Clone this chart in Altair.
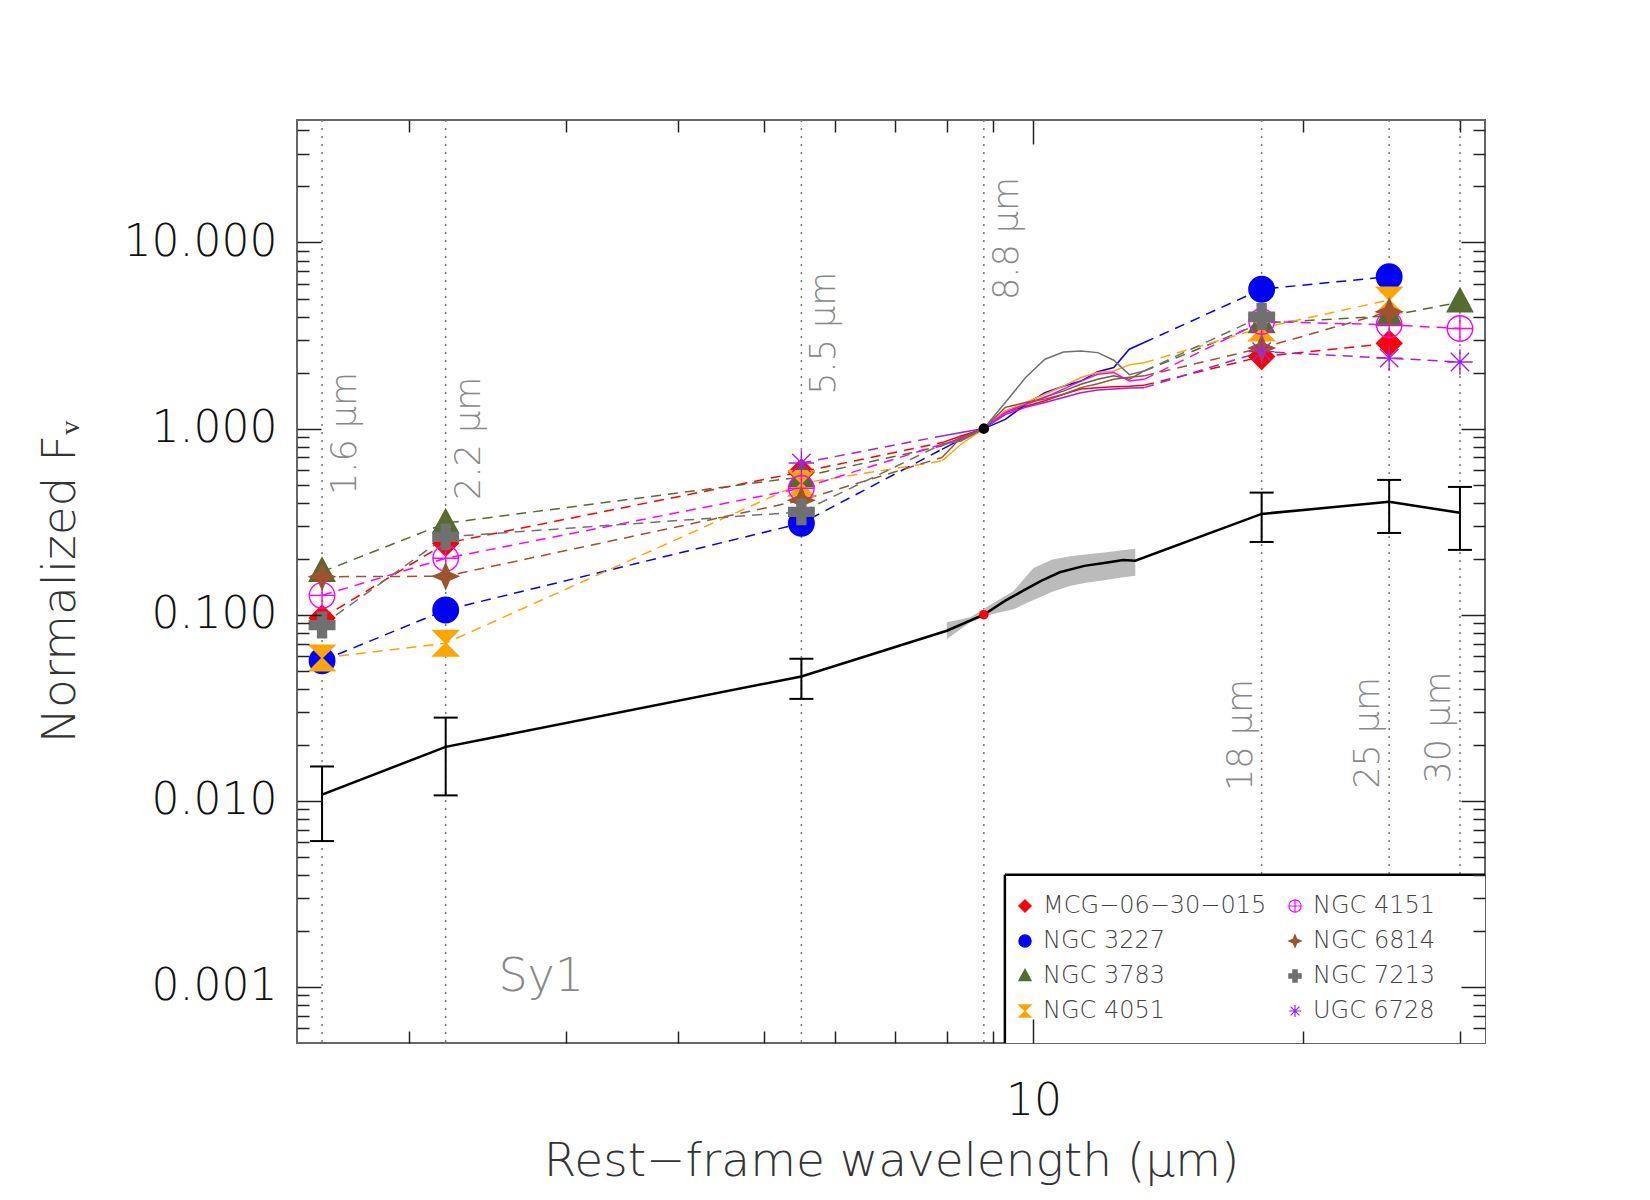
import altair as alt
import pandas as pd

# ---------------------------------------------------------------- data
GALAXIES = ["MCG−06−30−015", "NGC 3227", "NGC 3783", "NGC 4051",
            "NGC 4151", "NGC 6814", "NGC 7213", "UGC 6728"]
COLORS = ["#ff0000", "#0000ff", "#556b2f", "#ffa500",
          "#ff00ff", "#a0522d", "#707070", "#a020f0"]

NIR_WL = [1.6, 2.2, 5.5]          # H, K, 5.5 micron photometry
MIR_WL = [18.0, 25.0, 30.0]       # 18, 25, 30 micron photometry
SPEC_WL = [7.9, 8.3, 8.8, 9.3, 9.8, 10.3, 10.8, 11.3, 11.8, 12.3, 12.8, 13.3]

MCG_NIR = [0.096, 0.242, 0.585]
MCG_SPEC = [0.841, 0.913, 1.0, 1.22, 1.32, 1.41, 1.53, 1.63, 1.66, 1.68, 1.69, 1.71]
MCG_MIR = [2.44, 2.87, None]

N3227_NIR = [0.0566, 0.106, 0.31]
N3227_SPEC = [0.774, 0.876, 1.0, 1.12, 1.35, 1.56, 1.69, 1.80, 2.02, 2.13, 2.67, 2.90]
N3227_MIR = [5.61, 6.55, None]

N3783_NIR = [0.170, 0.31, 0.55]
N3783_SPEC = [0.807, 0.895, 1.0, 1.24, 1.35, 1.48, 1.59, 1.73, 1.84, 1.92, 1.84, 2.04]
N3783_MIR = [3.69, 4.03, 4.78]

N4051_NIR = [0.0585, 0.0703, 0.508]
N4051_SPEC = [0.67, 0.824, 1.0, 1.24, 1.38, 1.53, 1.69, 1.88, 2.0, 2.04, 2.2, 2.26]
N4051_MIR = [3.47, 4.91, None]

N4151_NIR = [0.127, 0.201, 0.478]
N4151_SPEC = [0.824, 0.876, 1.0, 1.22, 1.35, 1.47, 1.63, 1.80, 1.96, 2.0, 1.80, 1.84]
N4151_MIR = [3.76, 3.61, 3.45]

N6814_NIR = [0.16, 0.161, 0.412]
N6814_SPEC = [0.699, 0.895, 1.0, 1.30, 1.38, 1.44, 1.53, 1.66, 1.74, 1.84, 1.89, 1.92]
N6814_MIR = [2.71, 4.25, None]

N7213_NIR = [0.088, 0.262, 0.357]
N7213_SPEC = [0.824, 0.858, 1.0, 1.38, 1.88, 2.36, 2.58, 2.61, 2.56, 2.33, 1.95, 2.04]
N7213_MIR = [4.0, None, None]

U6728_NIR = [None, None, 0.653]
U6728_SPEC = [0.913, 0.952, 1.0, 1.19, 1.30, 1.38, 1.47, 1.56, 1.61, 1.63, 1.65, 1.66]
U6728_MIR = [2.59, 2.39, 2.28]

# mean Sy1 template (shifted down by a factor of 10)
MEAN_WL = [1.6, 2.2, 5.5, 18.0, 25.0, 30.0]
MEAN_VAL = [0.0108, 0.0195, 0.0466, 0.348, 0.404, 0.353]
MEAN_LO = [0.00608, 0.0107, 0.0353, 0.246, 0.275, 0.223]
MEAN_HI = [0.0153, 0.0280, 0.058, 0.453, 0.530, 0.486]
MEAN_SPEC_WL = [8.0, 8.8, 9.3, 9.75, 10.2, 10.7, 11.4, 12.1, 12.6, 13.0]
MEAN_SPEC = [0.082, 0.1, 0.119, 0.135, 0.152, 0.169, 0.183, 0.191, 0.197, 0.195]
BAND_WL = [8.0, 8.5, 9.0, 9.5, 10.0, 10.5, 11.0, 11.5, 12.0, 12.5, 13.0]
BAND_HI = [0.091, 0.097, 0.115, 0.134, 0.178, 0.198, 0.206, 0.211, 0.216, 0.221, 0.226]
BAND_LO = [0.074, 0.091, 0.101, 0.107, 0.120, 0.133, 0.143, 0.149, 0.153, 0.158, 0.162]

# filter wavelengths marked by dotted lines
BAND_LINES = [1.6, 2.2, 5.5, 8.8, 18.0, 25.0, 30.0]
BAND_TEXT = ["1.6 μm", "2.2 μm", "5.5 μm", "8.8 μm", "18 μm", "25 μm", "30 μm"]
BAND_TEXT_Y = [0.44, 0.414, 1.52, 4.91, 0.0113, 0.0116, 0.0124]

X_DOMAIN = [1.5, 32.0]
Y_DOMAIN = [0.0005, 45.5]
X_MINOR = [2, 3, 4, 5, 6, 7, 8, 9, 20, 30]
X_MAJOR = [10]
Y_MAJOR = [0.001, 0.01, 0.1, 1, 10]
Y_MINOR = [m * 10.0 ** e for e in range(-4, 2) for m in range(2, 10)
           if Y_DOMAIN[0] < m * 10.0 ** e < Y_DOMAIN[1]]

# legend panel corner (data units)
LEG_X0, LEG_Y1 = 9.29, 0.00401

# ------------------------------------------------------------- symbols
SHAPES = [
    "diamond",
    "circle",
    "M0,-1.1L1,0.75L-1,0.75Z",
    "M-1,-1L1,-1L0,0ZM-1,1L1,1L0,0Z",
    "M1,0A1,1,0,1,1,-1,0A1,1,0,1,1,1,0ZM-1,0L1,0M0,-1L0,1",
    "M0,-1L0.3,-0.3L1,0L0.3,0.3L0,1L-0.3,0.3L-1,0L-0.3,-0.3Z",
    "M-0.35,-1L0.35,-1L0.35,-0.35L1,-0.35L1,0.35L0.35,0.35L0.35,1L-0.35,1"
    "L-0.35,0.35L-1,0.35L-1,-0.35L-0.35,-0.35Z",
    "M-1,0L1,0M0,-1L0,1M-0.72,-0.72L0.72,0.72M-0.72,0.72L0.72,-0.72",
]
FILLS = [c if i not in (4, 7) else "transparent" for i, c in enumerate(COLORS)]

series = [
    (GALAXIES[0], MCG_NIR, MCG_SPEC, MCG_MIR),
    (GALAXIES[1], N3227_NIR, N3227_SPEC, N3227_MIR),
    (GALAXIES[2], N3783_NIR, N3783_SPEC, N3783_MIR),
    (GALAXIES[3], N4051_NIR, N4051_SPEC, N4051_MIR),
    (GALAXIES[4], N4151_NIR, N4151_SPEC, N4151_MIR),
    (GALAXIES[5], N6814_NIR, N6814_SPEC, N6814_MIR),
    (GALAXIES[6], N7213_NIR, N7213_SPEC, N7213_MIR),
    (GALAXIES[7], U6728_NIR, U6728_SPEC, U6728_MIR),
]

pt_rows, dash_rows, spec_rows = [], [], []
for rank, (name, nir, spec, mir) in enumerate(series):
    col = COLORS[rank]
    for wl, v in zip(NIR_WL + MIR_WL, nir + mir):
        if v is not None:
            pt_rows.append(dict(name=name, wl=wl, val=v, rank=rank))
    short = [(w, v) for w, v in zip(NIR_WL, nir) if v is not None] + [(SPEC_WL[0], spec[0])]
    long_ = [(SPEC_WL[-1], spec[-1])] + [(w, v) for w, v in zip(MIR_WL, mir) if v is not None]
    for seg, pts in (("a", short), ("b", long_)):
        for w, v in pts:
            dash_rows.append(dict(name=name, col=col, key=name + seg, wl=w, val=v))
    for w, v in zip(SPEC_WL, spec):
        spec_rows.append(dict(name=name, col=col, wl=w, val=v))

pts_df = pd.DataFrame(pt_rows)
dash_df = pd.DataFrame(dash_rows)
spec_df = pd.DataFrame(spec_rows)

mean_line_df = pd.DataFrame(
    {"wl": MEAN_WL + MEAN_SPEC_WL, "val": MEAN_VAL + MEAN_SPEC}
).sort_values("wl")
mean_err_df = pd.DataFrame({"wl": MEAN_WL, "val": MEAN_VAL, "lo": MEAN_LO, "hi": MEAN_HI})
band_df = pd.DataFrame({"wl": BAND_WL, "lo": BAND_LO, "hi": BAND_HI})
lines_df = pd.DataFrame({"wl": BAND_LINES, "text": BAND_TEXT, "y": BAND_TEXT_Y})
norm_sed_df = pd.DataFrame({"wl": [8.8], "val": [1.0]})
norm_mean_df = pd.DataFrame({"wl": [8.8], "val": [0.1]})
box_df = pd.DataFrame({"x0": [LEG_X0], "x1": [X_DOMAIN[1]],
                       "y0": [Y_DOMAIN[0]], "y1": [LEG_Y1]})
sy_df = pd.DataFrame({"wl": [2.52], "val": [0.00095], "text": ["Sy1"]})

# --------------------------------------------------------------- chart
W, H = 1188, 923
FONT = "DejaVu Sans"
LIGHT = 200

xs = alt.Scale(type="log", domain=X_DOMAIN, nice=False)
ys = alt.Scale(type="log", domain=Y_DOMAIN, nice=False)


def X(field, axis=None):
    return alt.X(field, type="quantitative", scale=xs, axis=axis)


def Y(field, axis=None):
    return alt.Y(field, type="quantitative", scale=ys, axis=axis)


def tick_axis(orient, values, length, **kw):
    return alt.Axis(orient=orient, values=values, tickSize=length, offset=-length,
                    domain=False, grid=False, tickColor="#222", tickWidth=1.5,
                    zindex=1, labelFlush=False, labelOverlap=False, **kw)


no_labels = dict(labels=False, title="")
x_major = tick_axis("bottom", X_MAJOR, 24, format=".0f", labelFont=FONT,
                    labelFontSize=44, labelFontWeight=LIGHT, labelColor="#111",
                    labelPadding=36, title="Rest−frame wavelength (μm)",
                    titleFont=FONT, titleFontSize=47, titleFontWeight=LIGHT,
                    titleColor="#333", titlePadding=15)
y_major = tick_axis("left", Y_MAJOR, 24, format=".3f", labelFont=FONT,
                    labelFontSize=44, labelFontWeight=LIGHT, labelColor="#111",
                    labelPadding=20, title="Normalized Fᵥ", titleFont=FONT,
                    titleFontSize=47, titleFontWeight=LIGHT, titleColor="#333",
                    titlePadding=39)

axis_layers = []
for ax, ay in [
    (x_major, y_major),
    (tick_axis("bottom", X_MINOR, 12, **no_labels), tick_axis("left", Y_MINOR, 12, **no_labels)),
    (tick_axis("top", X_MAJOR, 24, **no_labels), tick_axis("right", Y_MAJOR, 24, **no_labels)),
    (tick_axis("top", X_MINOR, 12, **no_labels), tick_axis("right", Y_MINOR, 12, **no_labels)),
]:
    axis_layers.append(
        alt.Chart(mean_line_df).mark_point(opacity=0).encode(x=X("wl", ax), y=Y("val", ay))
    )

base_rules = alt.Chart(lines_df).mark_rule(
    strokeDash=[2, 6], color="#777", strokeWidth=1.5
).encode(x=X("wl"))

left_lbl = alt.Chart(lines_df[lines_df.wl < 10]).mark_text(
    angle=270, align="left", baseline="middle", dy=23, font=FONT,
    fontSize=35, fontWeight=LIGHT, color="#888"
).encode(x=X("wl"), y=Y("y"), text="text:N")
right_lbl = alt.Chart(lines_df[lines_df.wl > 10]).mark_text(
    angle=270, align="left", baseline="middle", dy=-21, font=FONT,
    fontSize=35, fontWeight=LIGHT, color="#888"
).encode(x=X("wl"), y=Y("y"), text="text:N")

band = alt.Chart(band_df).mark_area(color="#bbbbbb", opacity=1).encode(
    x=X("wl"), y=Y("lo"), y2="hi")
mean_line = alt.Chart(mean_line_df).mark_line(color="black", strokeWidth=2.5).encode(
    x=X("wl"), y=Y("val"), order="wl:Q")
err = alt.Chart(mean_err_df).mark_rule(color="black", strokeWidth=2).encode(
    x=X("wl"), y=Y("lo"), y2="hi")
cap_hi = alt.Chart(mean_err_df).mark_tick(
    orient="horizontal", color="black", size=24, thickness=2, opacity=1
).encode(x=X("wl"), y=Y("hi"))
cap_lo = alt.Chart(mean_err_df).mark_tick(
    orient="horizontal", color="black", size=24, thickness=2, opacity=1
).encode(x=X("wl"), y=Y("lo"))

# line colours come straight from the data (identity scale, no legend)
line_color = alt.Color("col:N", scale=None)
dashed = alt.Chart(dash_df).mark_line(strokeDash=[10, 7], strokeWidth=1.5).encode(
    x=X("wl"), y=Y("val"), color=line_color, detail="key:N", order="wl:Q")
spectra = alt.Chart(spec_df).mark_line(strokeWidth=1.5).encode(
    x=X("wl"), y=Y("val"), color=line_color, detail="name:N", order="wl:Q")

# legend: two columns of four, filled column by column
legend = alt.Legend(orient="none", legendX=716, legendY=774, columns=2, title=None,
                    labelFont=FONT, labelFontSize=24, labelFontWeight=LIGHT,
                    labelColor="#444", labelLimit=400, symbolSize=150,
                    symbolStrokeWidth=1.2, rowPadding=11, columnPadding=16,
                    labelOffset=6, padding=0)
points = alt.Chart(pts_df).mark_point(size=650, strokeWidth=1.4, opacity=1).encode(
    x=X("wl"), y=Y("val"),
    shape=alt.Shape("name:N", scale=alt.Scale(domain=GALAXIES, range=SHAPES), legend=legend),
    fill=alt.Fill("name:N", scale=alt.Scale(domain=GALAXIES, range=FILLS), legend=legend),
    stroke=alt.Stroke("name:N", scale=alt.Scale(domain=GALAXIES, range=COLORS), legend=legend),
    order="rank:Q",
)

norm_sed = alt.Chart(norm_sed_df).mark_point(
    filled=True, size=110, opacity=1, color="black").encode(x=X("wl"), y=Y("val"))
norm_mean = alt.Chart(norm_mean_df).mark_point(
    filled=True, size=90, opacity=1, color="red").encode(x=X("wl"), y=Y("val"))

box = alt.Chart(box_df).mark_rect(color="white", opacity=1).encode(
    x=X("x0"), x2="x1", y=Y("y0"), y2="y1")
box_top = alt.Chart(box_df).mark_rule(color="black", strokeWidth=2.5).encode(
    x=X("x0"), x2="x1", y=Y("y1"))
box_left = alt.Chart(box_df).mark_rule(color="black", strokeWidth=2.5).encode(
    x=X("x0"), y=Y("y0"), y2="y1")

sy1 = alt.Chart(sy_df).mark_text(align="left", baseline="alphabetic", font=FONT,
                                 fontSize=46, fontWeight=LIGHT, color="#888").encode(
    x=X("wl"), y=Y("val"), text="text:N")

chart = alt.layer(
    *axis_layers, base_rules, box, left_lbl, right_lbl, band, mean_line, err, cap_hi,
    cap_lo, dashed, spectra, points, norm_sed, norm_mean, box_top, box_left, sy1,
).resolve_axis(x="independent", y="independent").properties(
    width=W, height=H,
    autosize=alt.AutoSizeParams(type="none"),
    padding={"left": 297, "top": 120, "right": 165, "bottom": 157},
    background="white",
).configure_view(stroke="#666", strokeWidth=2)

chart.save("out.html", embed_options={"renderer": "svg", "actions": False})
